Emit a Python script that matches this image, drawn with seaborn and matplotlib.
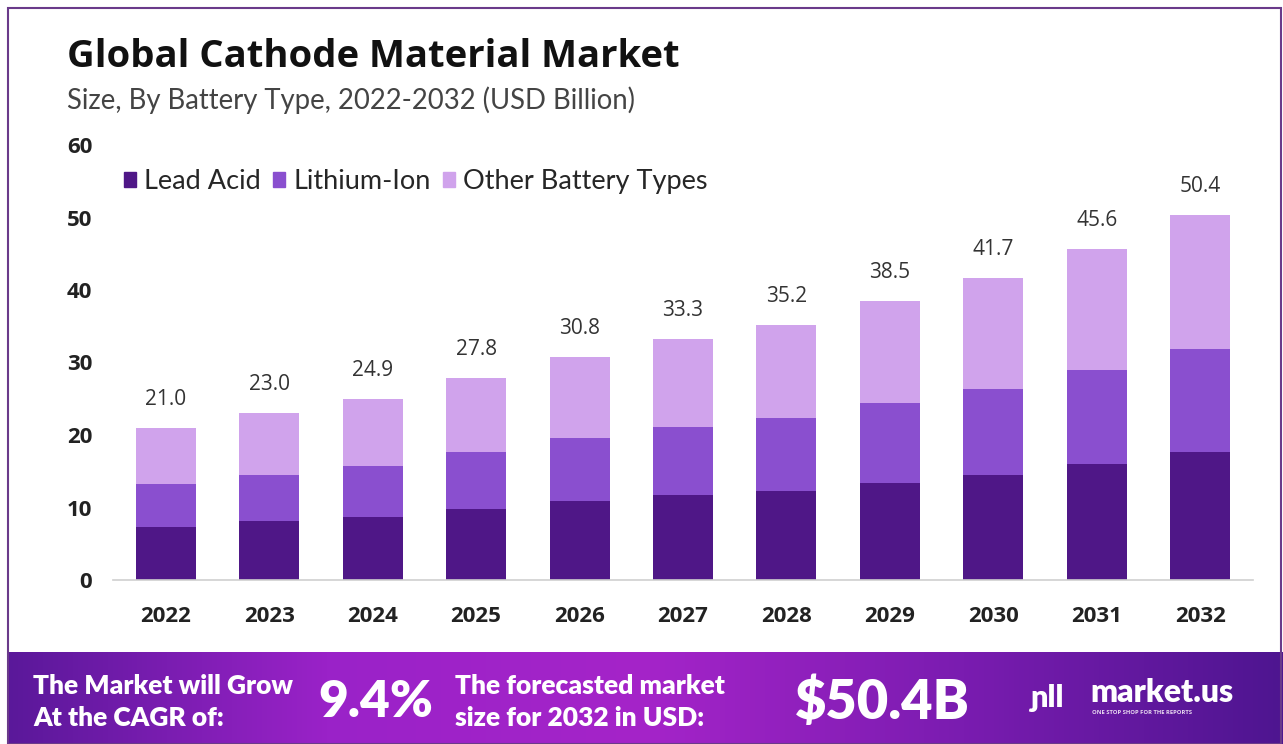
import numpy as np
import pandas as pd
import matplotlib.pyplot as plt
import matplotlib.patches as mpatches
from matplotlib.colors import LinearSegmentedColormap
import seaborn as sns

YEARS = ['2022', '2023', '2024', '2025', '2026', '2027', '2028', '2029', '2030', '2031', '2032']
LEAD_ACID = [7.3, 8.1, 8.7, 9.8, 10.9, 11.7, 12.3, 13.4, 14.5, 16.0, 17.7]
LITHIUM_ION = [5.9, 6.4, 7.0, 7.9, 8.7, 9.4, 10.0, 11.0, 11.8, 13.0, 14.2]
OTHER = [7.8, 8.5, 9.2, 10.1, 11.2, 12.2, 12.9, 14.1, 15.4, 16.6, 18.5]
SERIES = ['Lead Acid', 'Lithium-Ion', 'Other Battery Types']
COLORS = ['#4f1787', '#8a4fcf', '#d0a3ec']

sns.set_theme(style='white')
plt.rcParams['font.family'] = ['Open Sans', 'DejaVu Sans']

df = pd.DataFrame({'year': YEARS, 'lead': LEAD_ACID, 'li': LITHIUM_ION, 'other': OTHER})
df['c1'] = df['lead']
df['c2'] = df['lead'] + df['li']
df['c3'] = df['c2'] + df['other']

W, H = 1283, 744
fig = plt.figure(figsize=(W / 100, H / 100), dpi=100)
fig.patch.set_facecolor('white')

ax = fig.add_axes([113 / W, (H - 580) / H, (1253 - 113) / W, (580 - 145) / H])

# stacked bars drawn as layered cumulative bars
for col, color in zip(['c3', 'c2', 'c1'], COLORS[::-1]):
    sns.barplot(data=df, x='year', y=col, color=color, width=0.58,
                saturation=1, ax=ax, linewidth=0)

for i, tot in enumerate(df['c3']):
    ax.annotate(f'{tot:.1f}', (i, tot), xytext=(0, 13), textcoords='offset points',
                ha='center', va='bottom', fontsize=15, color='#333333')

ax.set_ylim(0, 60)
ax.set_xlim(-0.51, 10.51)
ax.set_yticks([0, 10, 20, 30, 40, 50, 60])
ax.set_xlabel('')
ax.set_ylabel('')
for s in ['top', 'right', 'left']:
    ax.spines[s].set_visible(False)
ax.spines['bottom'].set_color('#cfcfcf')
ax.spines['bottom'].set_linewidth(1.2)
ax.tick_params(axis='both', length=0, labelsize=16, colors='#222222')
ax.tick_params(axis='x', pad=19)
ax.tick_params(axis='y', pad=15)
for lab in ax.get_xticklabels() + ax.get_yticklabels():
    lab.set_fontweight('bold')

handles = [mpatches.Patch(color=c, label=l) for c, l in zip(COLORS, SERIES)]
ax.legend(handles=handles, loc='upper left', bbox_to_anchor=(0.0, 0.97), ncol=3,
          frameon=False, handlelength=0.45, handleheight=0.45,
          handletextpad=0.3, columnspacing=0.45, borderaxespad=0,
          prop={'family': ['Lato', 'DejaVu Sans'], 'size': 19.5})

fig.text(67 / W, 1 - 57 / H, 'Global Cathode Material Market', fontsize=27.5,
         fontweight='bold', color='#111111', va='center')
fig.text(67 / W, 1 - 100 / H, 'Size, By Battery Type, 2022-2032 (USD Billion)',
         fontsize=19.8, color='#444444', va='center', family=['Lato', 'DejaVu Sans'])

# footer band with gradient
fax = fig.add_axes([8 / W, 0, (W - 8) / W, (744 - 652) / H])
grad = LinearSegmentedColormap.from_list('f', ['#5a189a', '#9a22c8', '#a524c9', '#7a1cb0', '#4e1590'])
fax.imshow(np.linspace(0, 1, 256).reshape(1, -1), aspect='auto', cmap=grad,
           extent=[0, 1, 0, 1])
fax.set_xlim(0, 1)
fax.set_ylim(0, 1)
fax.axis('off')

fy = lambda y: (H - y) / H
foot = dict(color='white', fontweight='heavy', va='center', family=['Lato', 'DejaVu Sans'])
fig.text(33 / W, fy(686), 'The Market will Grow', fontsize=19, **foot)
fig.text(33 / W, fy(718), 'At the CAGR of:', fontsize=19, **foot)
fig.text(318 / W, fy(702), '9.4%', fontsize=37, **foot)
fig.text(455 / W, fy(686), 'The forecasted market', fontsize=19, **foot)
fig.text(455 / W, fy(718), 'size for 2032 in USD:', fontsize=19, **foot)
fig.text(795 / W, fy(702), '$50.4B', fontsize=39, **foot)
fig.text(1030 / W, fy(698), 'ɲll', fontsize=22, **foot)
fig.text(1090 / W, fy(692), 'market.us', fontsize=23, **foot)
fig.text(1092 / W, fy(713), 'ONE STOP SHOP FOR THE REPORTS', color='#e8d8f0',
         fontsize=4.2, fontweight='bold', va='center')

# thin purple frame around the picture
fig.patches.append(mpatches.Rectangle((8 / W, 0), (W - 10) / W, (H - 8) / H,
                                      transform=fig.transFigure, fill=False,
                                      edgecolor='#6a3a8a', linewidth=1.5))

fig.savefig('out.png', dpi=100)
